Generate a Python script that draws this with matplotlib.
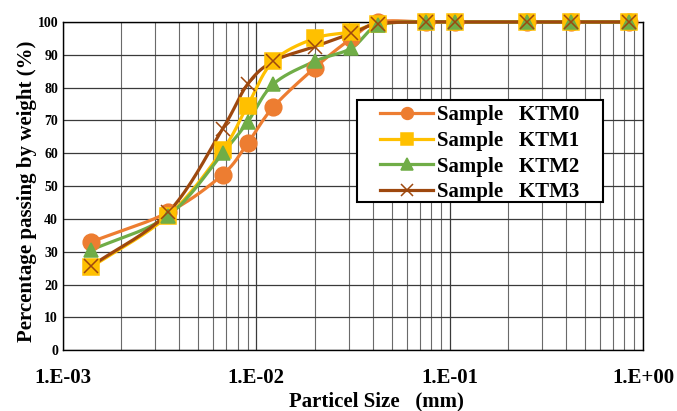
import numpy as np
import matplotlib
matplotlib.use('Agg')
import matplotlib.pyplot as plt
from matplotlib.patches import Rectangle
from matplotlib.ticker import LogLocator, FixedLocator

plt.rcParams['font.family'] = ['Liberation Serif', 'DejaVu Serif']
plt.rcParams['font.weight'] = 'bold'

# particle sizes (mm)
sizes = [0.0014, 0.0035, 0.0067, 0.009, 0.0122, 0.02, 0.031, 0.0427,
         0.075, 0.106, 0.25, 0.425, 0.85]
ktm0 = [33, 42, 53.5, 63, 74, 86, 95, 100, 100, 100, 100, 100, 100]
ktm1 = [25.3, 41, 61, 74.5, 88, 95, 97, 99.5, 100, 100, 100, 100, 100]
ktm2 = [30.5, 41, 60, 69.5, 81, 88, 92, 99, 100, 100, 100, 100, 100]
ktm3 = [25.6, 42, 67.5, 81, 88, 92.5, 96.5, 99.5, 100, 100, 100, 100, 100]

names = ['Sample   KTM0', 'Sample   KTM1', 'Sample   KTM2', 'Sample   KTM3']
colors = ['#ED7D31', '#FFC000', '#70AD47', '#9E480E']
markers = ['o', 's', '^', 'x']
msizes = [12, 11, 10.5, 10]


def smooth(x, y, n=20):
    # catmull-rom style smoothing in log-x space, like Excel's smoothed lines
    lx = np.log10(x)
    y = np.asarray(y, float)
    px = np.concatenate([[2 * lx[0] - lx[1]], lx, [2 * lx[-1] - lx[-2]]])
    py = np.concatenate([[2 * y[0] - y[1]], y, [2 * y[-1] - y[-2]]])
    xs, ys = [], []
    t = np.linspace(0, 1, n)
    for i in range(1, len(px) - 2):
        for p, out in ((px, xs), (py, ys)):
            p0, p1, p2, p3 = p[i - 1], p[i], p[i + 1], p[i + 2]
            out.extend(0.5 * ((2 * p1) + (-p0 + p2) * t
                              + (2 * p0 - 5 * p1 + 4 * p2 - p3) * t ** 2
                              + (-p0 + 3 * p1 - 3 * p2 + p3) * t ** 3))
    return 10 ** np.array(xs), np.array(ys)


fig = plt.figure(figsize=(6.77, 4.11), dpi=100)
ax = fig.add_axes([0.093, 0.148, 0.857, 0.7985])

for yv, c, m, ms, lab in zip([ktm0, ktm1, ktm2, ktm3], colors, markers, msizes, names):
    sx, sy = smooth(sizes, yv)
    ax.plot(sx, sy, color=c, lw=2.3, zorder=3, clip_on=False)
    ax.plot(sizes, yv, ls='none', marker=m, ms=ms, mew=1.1, color=c,
            zorder=4, clip_on=False)
    ax.plot([], [], color=c, lw=2.3, marker=m, ms=8.5 if m != 'x' else 9,
            mew=1.1, label=lab)

ax.set_xscale('log')
ax.set_xlim(1e-3, 1e0)
ax.set_ylim(0, 100)
ax.set_yticks(np.arange(0, 101, 10))
ax.xaxis.set_major_locator(FixedLocator([1e-3, 1e-2, 1e-1, 1e0]))
ax.xaxis.set_minor_locator(LogLocator(base=10, subs=np.arange(2, 10)))
ax.set_xticklabels(['1.E-03', '1.E-02', '1.E-01', '1.E+00'])
ax.tick_params(axis='x', which='both', length=0, labelsize=15, pad=13)
ax.tick_params(axis='y', length=0, labelsize=10, pad=3.5)
for lbl in ax.get_xticklabels() + ax.get_yticklabels():
    lbl.set_fontweight('bold')

ax.grid(True, which='major', color='#3a3a3a', lw=0.9)
ax.grid(True, which='minor', axis='x', color='#6a6a6a', lw=0.8)
ax.set_axisbelow(True)
for s in ax.spines.values():
    s.set_color('black')
    s.set_linewidth(1.0)

ax.set_xlabel('Particel Size   (mm)', fontsize=15, fontweight='bold')
ax.xaxis.set_label_coords(0.54, -0.125)
ax.set_ylabel('Percentage passing by weight (%)', fontsize=15, fontweight='bold')
ax.yaxis.set_label_coords(-0.045, 0.483)

# legend box drawn separately so the padding matches the original
ax.add_patch(Rectangle((357 / 677, 1 - 202 / 411), 246 / 677, 102 / 411,
                       transform=fig.transFigure, fc='white', ec='black',
                       lw=1.5, zorder=5, clip_on=False))
leg = ax.legend(loc='upper left', bbox_to_anchor=(380 / 677, 1 - 105 / 411),
                bbox_transform=fig.transFigure,
                prop={'size': 15, 'weight': 'bold'}, frameon=False,
                handlelength=2.55, handletextpad=0.2, labelspacing=0.28,
                borderpad=0, borderaxespad=0)
leg.set_zorder(6)

fig.savefig('out.png', dpi=100)
